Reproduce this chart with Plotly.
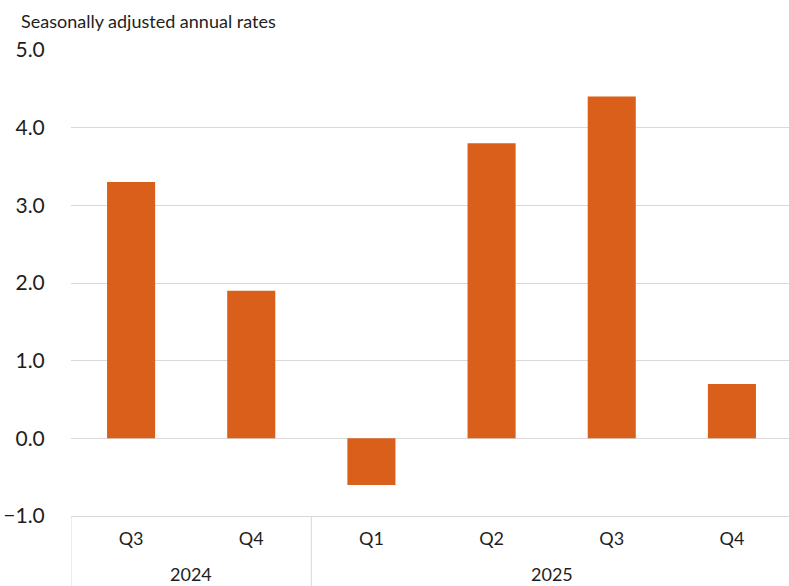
import plotly.graph_objects as go

years = ["2024", "2024", "2025", "2025", "2025", "2025"]
quarters = ["Q3", "Q4", "Q1", "Q2", "Q3", "Q4"]
values = [3.3, 1.9, -0.6, 3.8, 4.4, 0.7]
y_ticks = [-1.0, 0.0, 1.0, 2.0, 3.0, 4.0, 5.0]
y_tick_text = ["\u22121.0", "0.0", "1.0", "2.0", "3.0", "4.0", "5.0"]
title_text = "Seasonally adjusted annual rates"

FONT = "Lato"
TXT = "#1E1E1E"
GRID = "#D9D9D9"
W, H = 792, 586
ML, MR, MT, MB = 71, 0, 50, 70
plot_h = H - MT - MB
plot_w = W - ML - MR

xpos = list(range(len(values)))

fig = go.Figure(go.Bar(
    x=xpos, y=values,
    marker=dict(color="#D95F1A", line=dict(width=0)),
    width=0.4,
))

# year groups
groups = []
for i, yr in enumerate(years):
    if groups and groups[-1][0] == yr:
        groups[-1][2] = i
    else:
        groups.append([yr, i, i])

annotations = [dict(text=title_text, xref="paper", yref="paper", x=-(ML - 19) / plot_w, y=1.0,
                    yshift=42, xanchor="left", yanchor="top", showarrow=False,
                    font=dict(size=18, family=FONT, color=TXT))]
shapes = []
for gi, (yr, a, b) in enumerate(groups):
    annotations.append(dict(text=yr, xref="x", yref="paper", x=(a + b) / 2, y=0,
                            yshift=-58, xanchor="center", yanchor="middle", showarrow=False,
                            font=dict(size=18, family=FONT, color=TXT)))
    # divider at the left edge of each group (right edge of chart falls outside view)
    shapes.append(dict(type="line", xref="x", yref="paper", x0=a - 0.5, x1=a - 0.5,
                       y0=0, y1=-MB / plot_h, line=dict(color=GRID, width=1)))

fig.update_layout(
    width=W, height=H,
    margin=dict(l=ML, r=MR, t=MT, b=MB),
    plot_bgcolor="white", paper_bgcolor="white",
    font=dict(family=FONT, color=TXT),
    showlegend=False,
    annotations=annotations,
    shapes=shapes,
    bargap=0.6,
)
fig.update_yaxes(range=[-1.0, 5.0], tickvals=y_ticks, ticktext=y_tick_text,
                 showgrid=True, gridcolor=GRID, gridwidth=1,
                 zeroline=True, zerolinecolor=GRID, zerolinewidth=1,
                 showline=False, ticks="outside", ticklen=21, tickcolor="white",
                 automargin=False,
                 tickfont=dict(size=21, family=FONT, color=TXT))
fig.update_xaxes(range=[-0.5, len(values) - 0.5], tickvals=xpos, ticktext=quarters,
                 showline=True, linecolor=GRID, linewidth=1,
                 ticks="outside", ticklen=6, tickcolor="white",
                 automargin=False, showgrid=False, zeroline=False,
                 tickfont=dict(size=18, family=FONT, color=TXT))
fig.write_html("out.html", config={"displayModeBar": False},
               post_script="document.body.style.margin='0';document.body.style.overflow='hidden';")
